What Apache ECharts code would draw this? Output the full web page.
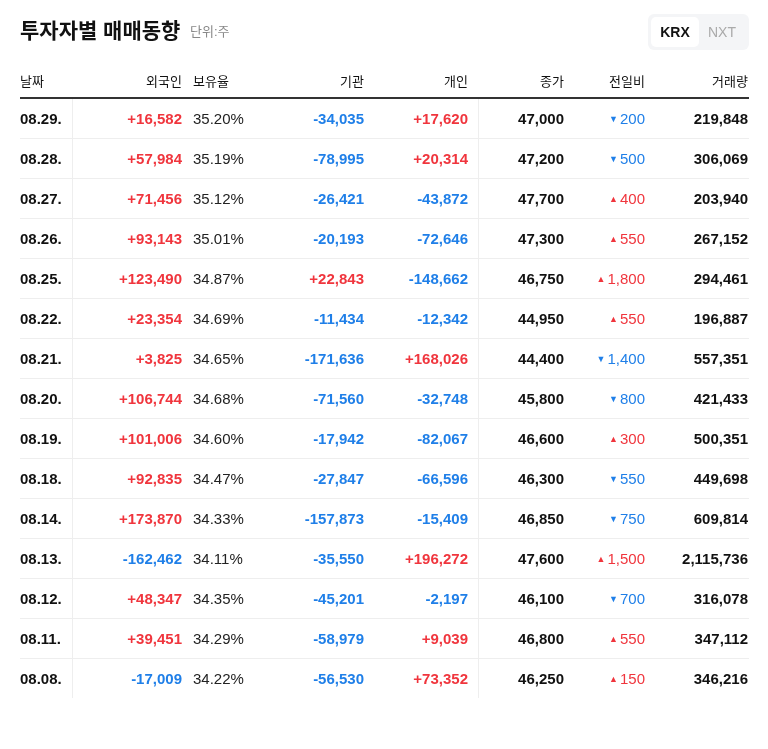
<!DOCTYPE html>
<html><head><meta charset="utf-8">
<script src="https://cdn.jsdelivr.net/npm/echarts@6/dist/echarts.min.js"></script>
<style>html,body{margin:0;padding:0;background:#fff}#c{width:768px;height:749px}</style>
</head><body><div id="c"></div>
<script>
const dates=['08.29.','08.28.','08.27.','08.26.','08.25.','08.22.','08.21.','08.20.','08.19.','08.18.','08.14.','08.13.','08.12.','08.11.','08.08.'];
const foreign=[16582,57984,71456,93143,123490,23354,3825,106744,101006,92835,173870,-162462,48347,39451,-17009];
const ratio=[35.20,35.19,35.12,35.01,34.87,34.69,34.65,34.68,34.60,34.47,34.33,34.11,34.35,34.29,34.22];
const inst=[-34035,-78995,-26421,-20193,22843,-11434,-171636,-71560,-17942,-27847,-157873,-35550,-45201,-58979,-56530];
const indiv=[17620,20314,-43872,-72646,-148662,-12342,168026,-32748,-82067,-66596,-15409,196272,-2197,9039,73352];
const closeP=[47000,47200,47700,47300,46750,44950,44400,45800,46600,46300,46850,47600,46100,46800,46250];
const change=[-200,-500,400,550,1800,550,-1400,-800,300,-550,-750,1500,-700,550,150];
const volume=[219848,306069,203940,267152,294461,196887,557351,421433,500351,449698,609814,2115736,316078,347112,346216];
const headers=['날짜','외국인','보유율','기관','개인','종가','전일비','거래량'];

const RED='#f0353d',BLUE='#1f7fe8',DARK='#111',FONT='"Liberation Sans","Noto Sans CJK KR",sans-serif';
const colX=[20,182,193,364,468,564,645,748];
const colAlign=['left','right','left','right','right','right','right','right'];
const fmt=v=>Math.abs(v).toLocaleString('en-US');
const sgn=v=>(v>0?'+':'-')+fmt(v);
const col=v=>v>0?RED:BLUE;

const chart=echarts.init(document.getElementById('c'));
const data=dates.map((d,i)=>[i]);
chart.setOption({
  animation:false,
  grid:{left:0,right:0,top:98,height:600},
  xAxis:{type:'value',min:0,max:768,show:false},
  yAxis:{type:'category',data:dates,inverse:true,show:false},
  graphic:[
    {type:'text',x:20,y:32,style:{text:'투자자별 매매동향',font:'bold 21px '+FONT,fill:DARK,verticalAlign:'middle'}},
    {type:'text',x:190,y:32,style:{text:'단위:주',font:'13px '+FONT,fill:'#888',verticalAlign:'middle'}},
    {type:'rect',shape:{x:648,y:14,width:101,height:36,r:6},style:{fill:'#f4f5f7'}},
    {type:'rect',shape:{x:651,y:17,width:48,height:30,r:5},style:{fill:'#fff'}},
    {type:'text',x:675,y:33,style:{text:'KRX',font:'bold 14px '+FONT,fill:DARK,align:'center',verticalAlign:'middle'}},
    {type:'text',x:722,y:33,style:{text:'NXT',font:'14px '+FONT,fill:'#aaa',align:'center',verticalAlign:'middle'}},
    ...headers.map((h,j)=>({type:'text',x:colX[j],y:82,style:{text:h,font:'13px '+FONT,fill:DARK,align:colAlign[j],verticalAlign:'middle'}})),
    {type:'rect',shape:{x:20,y:97,width:729,height:2},style:{fill:'#333'}},
    {type:'rect',shape:{x:72,y:99,width:1,height:599},style:{fill:'#eee'}},
    {type:'rect',shape:{x:478,y:99,width:1,height:599},style:{fill:'#eee'}}
  ],
  series:[{type:'custom',data:data,renderItem:(params,api)=>{
    const i=api.value(0);
    const yc=api.coord([0,i])[1];
    const y=yc+1.5;
    const t=(j,text,fill,bold)=>({type:'text',x:api.coord([colX[j],i])[0],y:y,style:{text:text,fill:fill,align:colAlign[j],verticalAlign:'middle',font:(bold?'bold ':'')+'15px '+FONT}});
    const ch=change[i];
    const children=[
      t(0,dates[i],DARK,true),
      t(1,sgn(foreign[i]),col(foreign[i]),true),
      t(2,ratio[i].toFixed(2)+'%','#222',false),
      t(3,sgn(inst[i]),col(inst[i]),true),
      t(4,sgn(indiv[i]),col(indiv[i]),true),
      t(5,fmt(closeP[i]),DARK,true),
      {type:'text',x:api.coord([colX[6],i])[0],y:y,style:{text:'{a|'+(ch>0?'▲':'▼')+'}'+fmt(ch),fill:col(ch),align:'right',verticalAlign:'middle',font:'15px '+FONT,rich:{a:{fontSize:9,fill:col(ch),padding:[0,2,0,0]}}}},
      t(7,fmt(volume[i]),DARK,true)
    ];
    if(i<dates.length-1) children.push({type:'rect',shape:{x:20,y:yc+20,width:729,height:1},style:{fill:'#eee'}});
    return {type:'group',children:children};
  }}]
});
</script></body></html>
